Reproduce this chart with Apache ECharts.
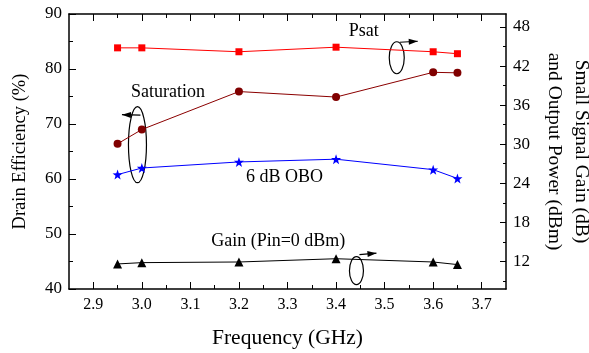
<!DOCTYPE html>
<html><head><meta charset="utf-8">
<script src="https://cdn.jsdelivr.net/npm/echarts@6/dist/echarts.min.js"></script>
<style>html,body{margin:0;padding:0;background:#fff}#c{width:589px;height:353px}</style>
</head><body><div id="c"></div>
<script>
// ---- data ----
const freq = [2.95, 3.0, 3.2, 3.4, 3.6, 3.65];
const psat = [44.8, 44.8, 44.2, 44.9, 44.2, 43.9];          // dBm, right axis
const effSat = [66.4, 69.0, 75.9, 74.9, 79.4, 79.3];        // %, left axis
const effObo = [60.8, 62.0, 63.1, 63.6, 61.7, 60.1];        // %, left axis
const gain = [11.6, 11.8, 11.9, 12.4, 11.9, 11.5];          // dB, right axis
const xMajor = [2.9, 3.0, 3.1, 3.2, 3.3, 3.4, 3.5, 3.6, 3.7];
const xMinor = [2.95, 3.05, 3.15, 3.25, 3.35, 3.45, 3.55, 3.65];
const rMajor = [12, 18, 24, 30, 36, 42, 48];
const rMinor = [9, 15, 21, 27, 33, 39, 45];
const xRange = [2.85, 3.75];
const lRange = [40, 90];
const rRange = [7.75, 50];

const FONT = '"Liberation Serif","DejaVu Serif",serif';
const chart = echarts.init(document.getElementById('c'), null, {renderer: 'canvas'});
const pair = (xs, ys) => xs.map((x, i) => [x, ys[i]]);
const STAR = 'path://M0,-10L2.35,-3.24L9.51,-3.09L3.8,1.24L5.88,8.09L0,4L-5.88,8.09L-3.8,1.24L-9.51,-3.09L-2.35,-3.24Z';

function xAx(pos, ticks, len, withLabel, withLine) {
  return {
    type: 'value', position: pos, min: xRange[0], max: xRange[1],
    name: withLabel ? 'Frequency (GHz)' : '', nameLocation: 'middle', nameGap: 37,
    nameTextStyle: {fontFamily: FONT, fontSize: 21.5, color: '#000', lineHeight: 24},
    axisLine: {show: withLine, onZero: false, lineStyle: {color: '#000', width: 1.5}},
    axisTick: {show: true, inside: true, length: len, customValues: ticks, lineStyle: {color: '#000', width: 1}},
    axisLabel: {show: withLabel, customValues: ticks, margin: 8, fontFamily: FONT, fontSize: 16, color: '#000',
      formatter: v => v.toFixed(1)},
    splitLine: {show: false}
  };
}
function rAx(ticks, len, withLabel, withLine) {
  return {
    type: 'value', position: 'right', min: rRange[0], max: rRange[1],
    name: withLabel ? 'Small Signal Gain (dB)\nand Output Power (dBm)' : '',
    nameLocation: 'middle', nameRotate: -90, nameGap: 20,
    nameTextStyle: {fontFamily: FONT, fontSize: 19.5, color: '#000', lineHeight: 27},
    axisLine: {show: withLine, onZero: false, lineStyle: {color: '#000', width: 1.5}},
    axisTick: {show: true, inside: true, length: len, customValues: ticks, lineStyle: {color: '#000', width: 1}},
    axisLabel: {show: withLabel, customValues: ticks, margin: 7, fontFamily: FONT, fontSize: 17, color: '#000'},
    splitLine: {show: false}
  };
}

chart.setOption({
  animation: false,
  backgroundColor: '#fff',
  grid: {left: 69, right: 83, top: 14, bottom: 64, containLabel: false, outerBoundsMode: 'none'},
  xAxis: [
    xAx('bottom', xMajor, 7, true, true),
    xAx('bottom', xMinor, 4, false, false),
    xAx('top', xMajor, 7, false, true),
    xAx('top', xMinor, 4, false, false)
  ],
  yAxis: [
    {
      type: 'value', position: 'left', min: lRange[0], max: lRange[1], interval: 10,
      name: 'Drain Efficiency (%)', nameLocation: 'middle', nameGap: 39,
      nameTextStyle: {fontFamily: FONT, fontSize: 18.5, color: '#000', lineHeight: 20},
      axisLine: {show: true, onZero: false, lineStyle: {color: '#000', width: 1.5}},
      axisTick: {show: true, inside: true, length: 7, lineStyle: {color: '#000', width: 1}},
      minorTick: {show: true, splitNumber: 2, length: 4, lineStyle: {color: '#000', width: 1}},
      axisLabel: {margin: 7, fontFamily: FONT, fontSize: 17, color: '#000'},
      splitLine: {show: false}, minorSplitLine: {show: false}
    },
    rAx(rMajor, 6, true, true),
    rAx(rMinor, 3, false, false)
  ],
  series: [
    {name: 'Psat', type: 'line', xAxisIndex: 0, yAxisIndex: 1, data: pair(freq, psat),
     symbol: 'rect', symbolSize: 7, itemStyle: {color: '#ff0000'}, lineStyle: {color: '#ff0000', width: 1}},
    {name: 'Saturation', type: 'line', xAxisIndex: 0, yAxisIndex: 0, data: pair(freq, effSat),
     symbol: 'circle', symbolSize: 8, itemStyle: {color: '#800000'}, lineStyle: {color: '#8b0000', width: 1}},
    {name: '6 dB OBO', type: 'line', xAxisIndex: 0, yAxisIndex: 0, data: pair(freq, effObo),
     symbol: STAR, symbolSize: 10, itemStyle: {color: '#0000ff'}, lineStyle: {color: '#0000ff', width: 1}},
    {name: 'Gain', type: 'line', xAxisIndex: 0, yAxisIndex: 1, data: pair(freq, gain),
     symbol: 'triangle', symbolSize: 9, itemStyle: {color: '#000'}, lineStyle: {color: '#000', width: 1}}
  ]
});

// ---- annotations (anchored in data coordinates: [GHz, efficiency %]) ----
const P = (f, e) => chart.convertToPixel({xAxisIndex: 0, yAxisIndex: 0}, [f, e]);
const texts = [
  {t: 'Psat', at: [3.457, 86.8]},
  {t: 'Saturation', at: [3.054, 75.85]},
  {t: '6 dB OBO', at: [3.294, 60.24]},
  {t: 'Gain (Pin=0 dBm)', at: [3.281, 48.6]}
];
const ellipses = [
  {at: [3.525, 82.05], rx: 7.5, ry: 16, arrow: [[3, -15.5], [21, -16.5]]},
  {at: [2.991, 66.24], rx: 9, ry: 38, arrow: [[3, -29.5], [-15.5, -30]]},
  {at: [3.442, 43.33], rx: 7, ry: 14, arrow: [[3, -16], [20, -17.5]]}
];
const g = [];
texts.forEach(o => {
  const p = P(o.at[0], o.at[1]);
  g.push({type: 'text', x: p[0], y: p[1], style: {text: o.t, fill: '#000', font: '18px ' + FONT, align: 'center', verticalAlign: 'middle'}});
});
ellipses.forEach(o => {
  const c = P(o.at[0], o.at[1]);
  g.push({type: 'ellipse', shape: {cx: c[0], cy: c[1], rx: o.rx, ry: o.ry}, style: {fill: 'none', stroke: '#000', lineWidth: 1.2}});
  const a = [c[0] + o.arrow[0][0], c[1] + o.arrow[0][1]];
  const b = [c[0] + o.arrow[1][0], c[1] + o.arrow[1][1]];
  g.push({type: 'line', shape: {x1: a[0], y1: a[1], x2: b[0], y2: b[1]}, style: {stroke: '#000', lineWidth: 1.2}});
  const ang = Math.atan2(b[1] - a[1], b[0] - a[0]);
  const L = 9, W = 3;
  const bx = b[0] - L * Math.cos(ang), by = b[1] - L * Math.sin(ang);
  g.push({type: 'polygon', shape: {points: [
    [b[0], b[1]],
    [bx - W * Math.sin(ang), by + W * Math.cos(ang)],
    [bx + W * Math.sin(ang), by - W * Math.cos(ang)]
  ]}, style: {fill: '#000'}});
});
chart.setOption({graphic: g});
</script></body></html>
